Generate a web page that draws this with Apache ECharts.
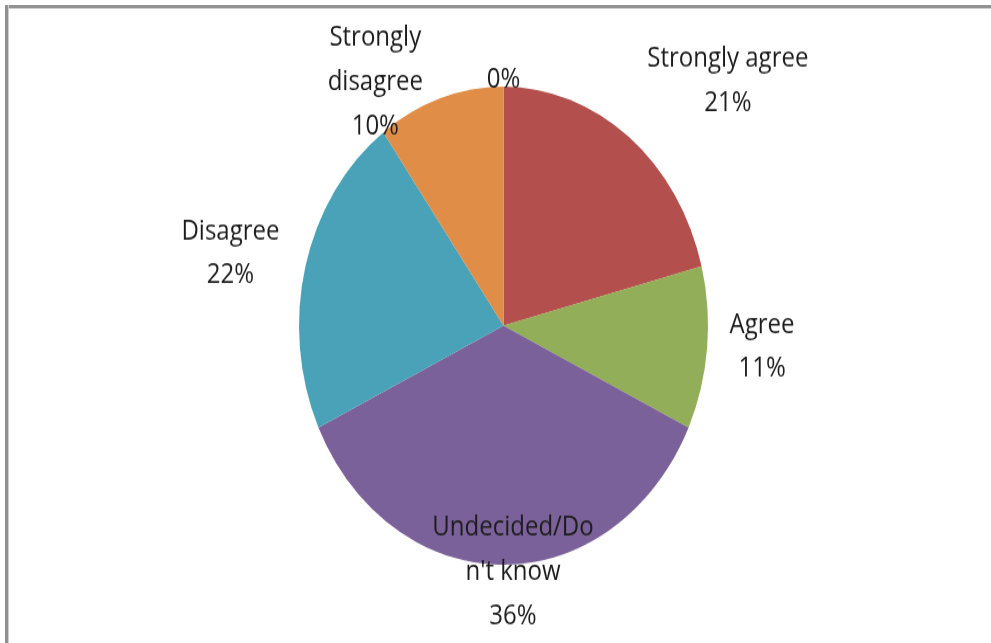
<!DOCTYPE html>
<html>
<head>
<meta charset="utf-8">
<script src="https://cdn.jsdelivr.net/npm/echarts@6/dist/echarts.min.js"></script>
<style>
  html, body { margin: 0; padding: 0; background: #ffffff; overflow: hidden; width: 991px; height: 643px; }
  #wrap { position: relative; width: 991px; height: 643px; overflow: hidden; background: #fff; }
  .ln { position: absolute; background: #929292; }
  #topline { left: 5px; top: 5px; width: 986px; height: 3px; border-bottom: 1px solid #cfcfcf; }
  #leftline { left: 5px; top: 5px; width: 3px; height: 638px; border-right: 1px solid #cfcfcf; }
  #chart { position: absolute; left: 0; top: 0; width: 991px; height: 550px;
           transform-origin: 0 0; transform: scaleY(1.1691); }
</style>
</head>
<body>
<div id="wrap">
  <div id="chart"></div>
  <div id="topline" class="ln"></div>
  <div id="leftline" class="ln"></div>
</div>
<script>
// ---- data ----
const categories = ['Strongly agree', 'Agree', "Undecided/Don't know", 'Disagree', 'Strongly disagree', ''];
const values = [21, 11, 36, 22, 10, 0];
const labelNames = ['Strongly agree', 'Agree', "Undecided/Do\nn't know", 'Disagree', 'Strongly\ndisagree', ''];
const colors = ['#B34F4D', '#93AE58', '#7B6199', '#4AA2B8', '#E08D47', '#7F7F7F'];
// label nudges from the slice edge (chart units)
const labelNudge = [[99, -48], [55, -1], [9.5, 6], [-75, -11], [-65, -14], [0, -6]];

const chart = echarts.init(document.getElementById('chart'), null, { renderer: 'canvas', width: 991, height: 550 });
chart.setOption({
  animation: false,
  backgroundColor: 'transparent',
  series: [{
    type: 'pie',
    center: [503.5, 278.6],
    radius: 204.5,
    startAngle: 90,
    clockwise: true,
    avoidLabelOverlap: false,
    minShowLabelAngle: 0,
    itemStyle: { borderWidth: 0 },
    label: {
      show: true,
      position: 'outside',
      distanceToLabelLine: 0,
      fontFamily: '"Open Sans", sans-serif',
      fontSize: 24,
      lineHeight: 37.6,
      color: '#1c1c1c',
      formatter: function (p) {
        const n = labelNames[p.dataIndex];
        return (n ? n + '\n' : '') + Math.round(p.percent) + '%';
      }
    },
    labelLine: { show: false, length: 0, length2: 0 },
    labelLayout: function (p) {
      const d = labelNudge[p.dataIndex];
      return { align: 'center', verticalAlign: 'middle', dx: d[0], dy: d[1] };
    },
    emphasis: { disabled: true },
    data: categories.map(function (c, i) {
      return { name: c, value: values[i], itemStyle: { color: colors[i] } };
    })
  }]
});
</script>
</body>
</html>
